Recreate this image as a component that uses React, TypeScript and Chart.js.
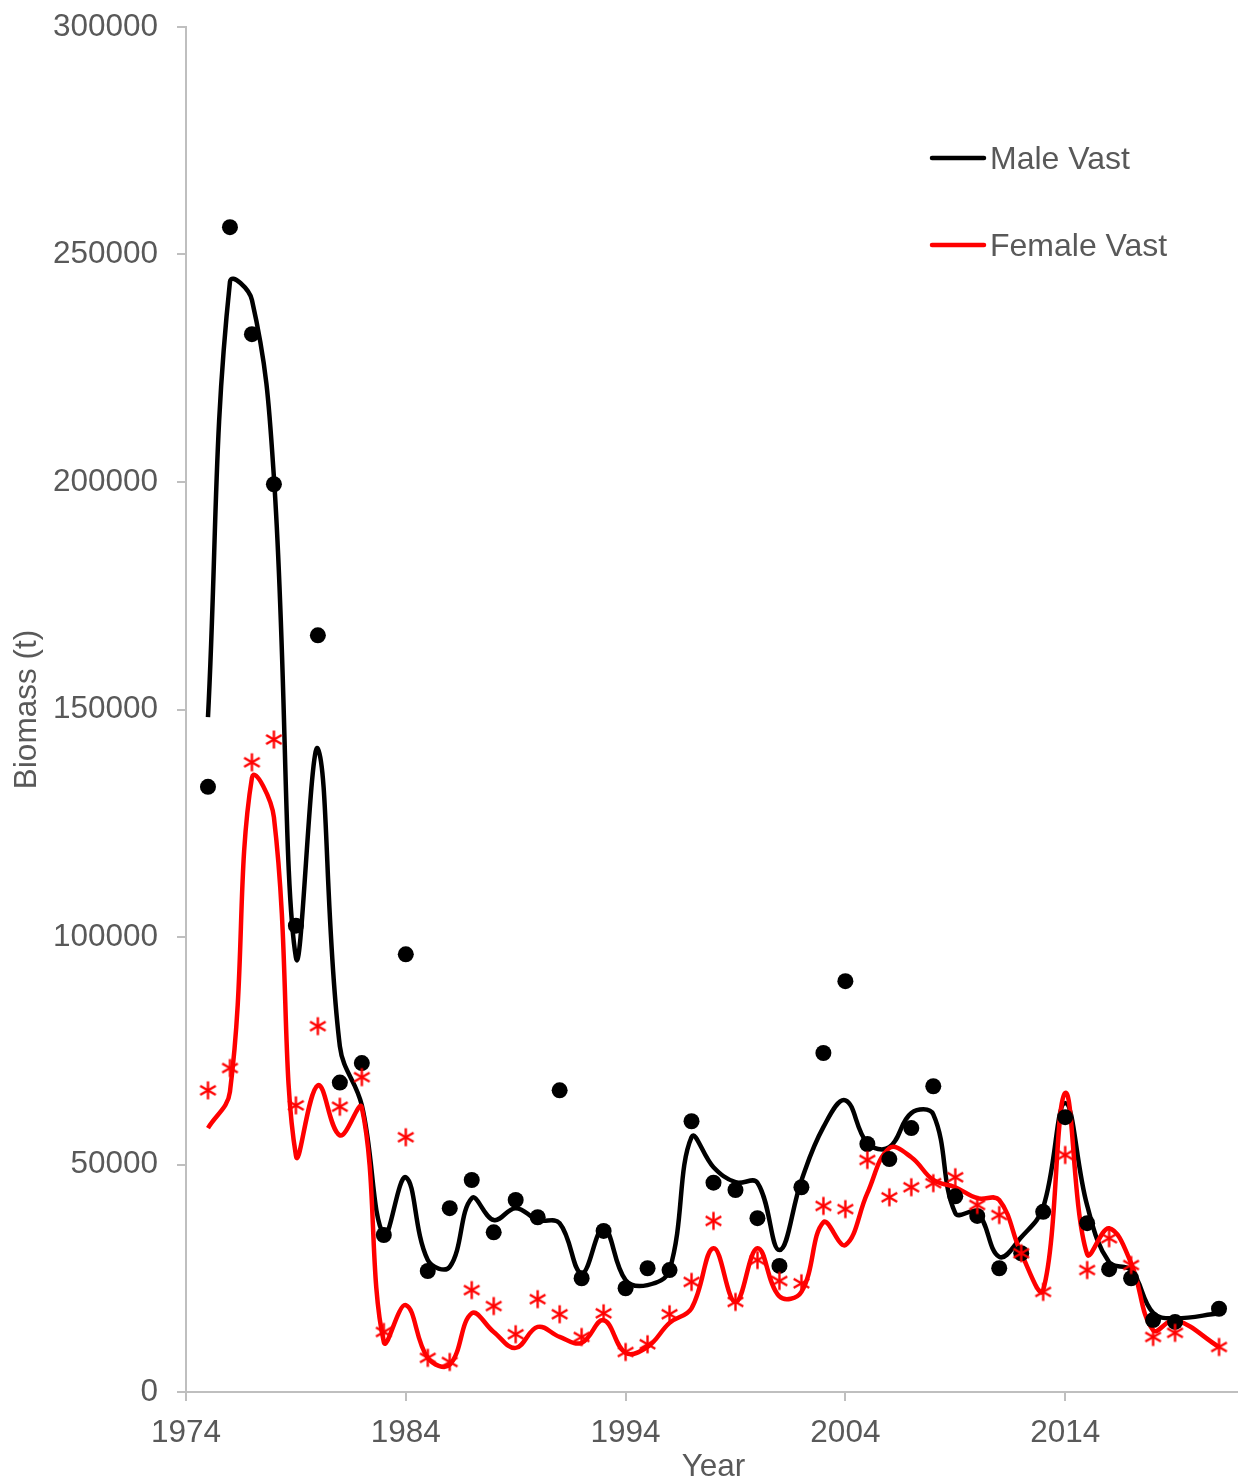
import React, { useEffect, useRef } from 'react';
import { Chart, registerables } from 'chart.js';

Chart.register(...registerables);

// ---- Data ----
const years = [
  1975, 1976, 1977, 1978, 1979, 1980, 1981, 1982, 1983, 1984,
  1985, 1986, 1987, 1988, 1989, 1990, 1991, 1992, 1993, 1994,
  1995, 1996, 1997, 1998, 1999, 2000, 2001, 2002, 2003, 2004,
  2005, 2006, 2007, 2008, 2009, 2010, 2011, 2012, 2013, 2014,
  2015, 2016, 2017, 2018, 2019, 2021,
];

const maleObserved = [
  133000, 256000, 232500, 199500, 102500, 166300, 68000, 72300, 34500, 96200,
  26600, 40400, 46600, 35100, 42200, 38400, 66300, 25000, 35400, 22800,
  27200, 26800, 59500, 46000, 44400, 38200, 27700, 45000, 74500, 90300,
  54500, 51200, 58000, 67200, 43000, 38700, 27200, 30500, 39600, 60400,
  37100, 27000, 25000, 15800, 15400, 18300,
];

const femaleObserved = [
  66300, 71200, 138400, 143400, 63000, 80400, 62700, 69200, 13200, 56000,
  7500, 6600, 22400, 18900, 12700, 20400, 17100, 12100, 17300, 8800,
  10500, 17100, 24200, 37600, 19800, 29000, 24400, 23900, 40900, 40200,
  51000, 42800, 45000, 45900, 47200, 41100, 38900, 30500, 22000, 52100,
  26800, 33800, 27900, 12100, 13000, 9900,
];

const maleVast = [
  148300, 244000, 240000, 201000, 95500, 141400, 76000, 63000, 34500, 47200,
  29000, 27500, 42600, 37800, 40400, 37800, 37100, 26100, 36000, 24600,
  23500, 26800, 56000, 49400, 46100, 46000, 31200, 46500, 58200, 64100,
  54700, 53800, 61300, 61000, 39300, 39500, 29700, 34000, 40600, 63500,
  41000, 28500, 26800, 17400, 16200, 17300,
];

const femaleVast = [
  58000, 66000, 135000, 126300, 52000, 67400, 56400, 62500, 11000, 19100,
  7500, 6000, 17300, 13200, 9700, 14300, 12100, 10800, 15800, 8600,
  9900, 15200, 18400, 31600, 19800, 31600, 21000, 22000, 37300, 32300,
  43700, 53600, 51600, 46600, 45000, 42600, 42200, 30500, 22400, 65700,
  30300, 36000, 28300, 13600, 15800, 9900,
];

const xTickValues = [1974, 1984, 1994, 2004, 2014];
const xMin = 1974;
const xMax = 2022;
const yMin = 0;
const yMax = 300000;
const yStep = 50000;

const seriesLabels = ['Male Vast', 'Female Vast'];
const xTitle = 'Year';
const yTitle = 'Biomass (t)';

const toPoints = (xs: number[], ys: number[]) => xs.map((x, i) => ({ x, y: ys[i] }));

function makeAsterisk(color: string): HTMLCanvasElement {
  const s = 21;
  const c = document.createElement('canvas');
  c.width = s;
  c.height = s;
  const ctx = c.getContext('2d')!;
  ctx.strokeStyle = color;
  ctx.lineWidth = 2.4;
  const cx = s / 2;
  const cy = s / 2;
  const r = 9;
  [90, 30, 150].forEach((a) => {
    const rad = (a * Math.PI) / 180;
    const dx = Math.cos(rad) * r;
    const dy = Math.sin(rad) * r;
    ctx.beginPath();
    ctx.moveTo(cx - dx, cy - dy);
    ctx.lineTo(cx + dx, cy + dy);
    ctx.stroke();
  });
  return c;
}

const FONT = '"Liberation Sans", Arial, sans-serif';
const TEXT = '#595959';
const AXIS = '#BFBFBF';

const legendPlugin = {
  id: 'insideLegend',
  afterDraw(chart: any) {
    const ctx = chart.ctx;
    const entries = seriesLabels.map((lbl) => chart.data.datasets.find((d: any) => d.label === lbl));
    const rows = [158, 245];
    ctx.save();
    entries.forEach((ds: any, i: number) => {
      if (!ds) return;
      const y = rows[i];
      ctx.strokeStyle = ds.borderColor;
      ctx.lineWidth = 4.5;
      ctx.lineCap = 'round';
      ctx.beginPath();
      ctx.moveTo(932, y);
      ctx.lineTo(984, y);
      ctx.stroke();
      ctx.fillStyle = TEXT;
      ctx.font = `32px ${FONT}`;
      ctx.textAlign = 'left';
      ctx.textBaseline = 'alphabetic';
      ctx.fillText(ds.label, 990, y + 11);
    });
    ctx.restore();
  },
};

export default function App() {
  const canvasRef = useRef<HTMLCanvasElement | null>(null);

  useEffect(() => {
    if (!canvasRef.current) return;
    const asterisk = makeAsterisk('#FF0000');
    const chart = new Chart(canvasRef.current, {
      type: 'line',
      data: {
        datasets: [
          {
            label: 'Female observed',
            data: toPoints(years, femaleObserved),
            showLine: false,
            pointStyle: asterisk as any,
            pointRadius: 9,
            borderColor: '#FF0000',
            backgroundColor: '#FF0000',
            order: 0,
          },
          {
            label: 'Male observed',
            data: toPoints(years, maleObserved),
            showLine: false,
            pointStyle: 'circle',
            pointRadius: 8,
            pointBorderWidth: 0,
            borderColor: '#000000',
            backgroundColor: '#000000',
            order: 1,
          },
          {
            label: 'Female Vast',
            data: toPoints(years, femaleVast),
            borderColor: '#FF0000',
            backgroundColor: '#FF0000',
            borderWidth: 4.5,
            pointRadius: 0,
            tension: 0.4,
            order: 2,
          },
          {
            label: 'Male Vast',
            data: toPoints(years, maleVast),
            borderColor: '#000000',
            backgroundColor: '#000000',
            borderWidth: 4.5,
            pointRadius: 0,
            tension: 0.4,
            order: 3,
          },
        ],
      },
      options: {
        animation: false,
        responsive: false,
        maintainAspectRatio: false,
        layout: { padding: { top: 27, right: 3, left: 0, bottom: 0 } },
        plugins: {
          legend: { display: false },
          tooltip: { enabled: false },
        },
        scales: {
          x: {
            type: 'linear',
            min: xMin,
            max: xMax,
            afterBuildTicks: (scale: any) => {
              scale.ticks = xTickValues.map((v) => ({ value: v }));
            },
            afterFit: (scale: any) => {
              scale.height = 89;
            },
            ticks: {
              color: TEXT,
              font: { family: FONT, size: 31.5 },
              padding: 13,
              maxRotation: 0,
              autoSkip: false,
              callback: (v: any) => String(v),
            },
            grid: { drawOnChartArea: false, drawTicks: true, tickLength: 9, color: AXIS, lineWidth: 2 },
            border: { display: true, color: AXIS, width: 2 },
            title: {
              display: true,
              text: xTitle,
              color: TEXT,
              font: { family: FONT, size: 31.5, lineHeight: 0.9 },
              padding: 0,
            },
          },
          y: {
            type: 'linear',
            min: yMin,
            max: yMax,
            afterFit: (scale: any) => {
              scale.width = 186;
              scale.paddingTop = 0;
              scale.paddingBottom = 0;
            },
            ticks: {
              stepSize: yStep,
              color: TEXT,
              font: { family: FONT, size: 31.5 },
              padding: 19,
              callback: (v: any) => String(v),
            },
            grid: { drawOnChartArea: false, drawTicks: true, tickLength: 9, color: AXIS, lineWidth: 2 },
            border: { display: true, color: AXIS, width: 2 },
            title: {
              display: true,
              text: yTitle,
              color: TEXT,
              font: { family: FONT, size: 31.5, lineHeight: 1 },
              padding: { top: 12, bottom: 0 },
            },
          },
        },
      },
      plugins: [legendPlugin],
    });
    return () => chart.destroy();
  }, []);

  return (
    <div style={{ position: 'absolute', left: 0, top: 0, width: 1238, height: 1481, overflow: 'hidden', background: '#ffffff' }}>
      <canvas ref={canvasRef} width={1251} height={1481} style={{ display: 'block', width: 1251, height: 1481 }} />
    </div>
  );
}
